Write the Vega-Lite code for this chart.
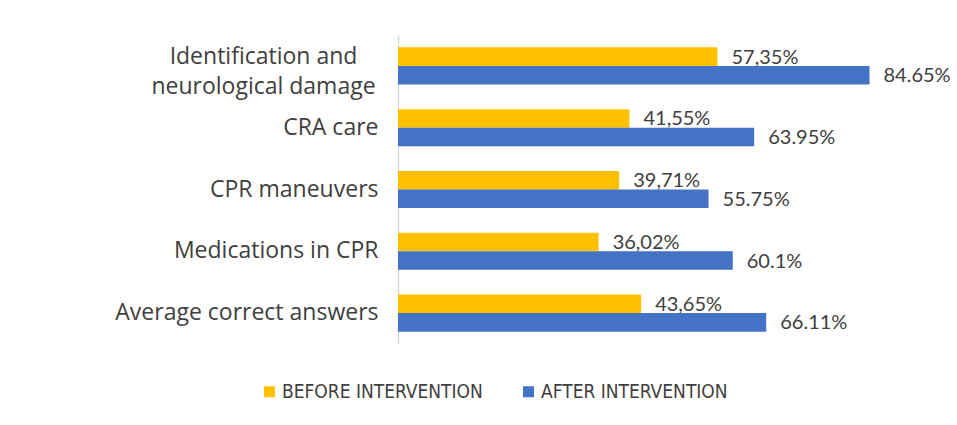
{
  "$schema": "https://vega.github.io/schema/vega-lite/v6.json",
  "width": 557,
  "height": 309,
  "autosize": {"type": "none"},
  "padding": {"left": 398, "top": 35, "right": 2, "bottom": 81},
  "background": "white",
  "config": {"view": {"stroke": null}},
  "data": {
    "values": [
      {"category": "Identification and neurological damage", "series": "BEFORE INTERVENTION", "value": 57.35, "label": "57,35%"},
      {"category": "Identification and neurological damage", "series": "AFTER INTERVENTION", "value": 84.65, "label": "84.65%"},
      {"category": "CRA care", "series": "BEFORE INTERVENTION", "value": 41.55, "label": "41,55%"},
      {"category": "CRA care", "series": "AFTER INTERVENTION", "value": 63.95, "label": "63.95%"},
      {"category": "CPR maneuvers", "series": "BEFORE INTERVENTION", "value": 39.71, "label": "39,71%"},
      {"category": "CPR maneuvers", "series": "AFTER INTERVENTION", "value": 55.75, "label": "55.75%"},
      {"category": "Medications in CPR", "series": "BEFORE INTERVENTION", "value": 36.02, "label": "36,02%"},
      {"category": "Medications in CPR", "series": "AFTER INTERVENTION", "value": 60.1, "label": "60.1%"},
      {"category": "Average correct answers", "series": "BEFORE INTERVENTION", "value": 43.65, "label": "43,65%"},
      {"category": "Average correct answers", "series": "AFTER INTERVENTION", "value": 66.11, "label": "66.11%"}
    ]
  },
  "encoding": {
    "y": {
      "field": "category",
      "type": "nominal",
      "sort": ["Identification and neurological damage", "CRA care", "CPR maneuvers", "Medications in CPR", "Average correct answers"],
      "scale": {"paddingInner": 0.4, "paddingOuter": 0.2},
      "axis": {
        "title": null,
        "ticks": false,
        "domainColor": "#D9D9D9",
        "domainWidth": 1.5,
        "labelFont": "Open Sans",
        "labelFontSize": 23,
        "labelColor": "#404040",
        "labelLimit": 400,
        "labelLineHeight": 30,
        "labelPadding": {"condition": {"test": "datum.value === 'Identification and neurological damage'", "value": 135}, "value": 20},
        "labelOffset": {"condition": {"test": "datum.value === 'Identification and neurological damage'", "value": -9}, "value": 0},
        "labelAlign": {"condition": {"test": "datum.value === 'Identification and neurological damage'", "value": "center"}, "value": "right"},
        "labelExpr": "datum.value === 'Identification and neurological damage' ? ['Identification and', 'neurological damage'] : datum.label"
      }
    },
    "yOffset": {"field": "series", "type": "nominal", "sort": ["BEFORE INTERVENTION", "AFTER INTERVENTION"]},
    "x": {"field": "value", "type": "quantitative", "scale": {"domain": [0, 100]}, "axis": null}
  },
  "layer": [
    {
      "mark": {"type": "bar"},
      "encoding": {
        "color": {
          "field": "series",
          "type": "nominal",
          "scale": {"domain": ["BEFORE INTERVENTION", "AFTER INTERVENTION"], "range": ["#FFC000", "#4472C4"]},
          "legend": {
            "title": null,
            "orient": "none",
            "direction": "horizontal",
            "legendX": -138,
            "legendY": 347,
            "symbolType": "square",
            "symbolSize": 121,
            "symbolStrokeWidth": 0,
            "labelFont": "DejaVu Sans Condensed, Roboto Condensed, sans-serif",
            "labelFontSize": 19,
            "labelColor": "#404040",
            "labelOffset": 3,
            "columnPadding": 36,
            "labelLimit": 400
          }
        }
      }
    },
    {
      "mark": {"type": "text", "align": "left", "baseline": "middle", "dx": 14, "dy": 1, "font": "Lato", "fontSize": 20, "color": "#404040"},
      "encoding": {"text": {"field": "label"}}
    }
  ]
}
